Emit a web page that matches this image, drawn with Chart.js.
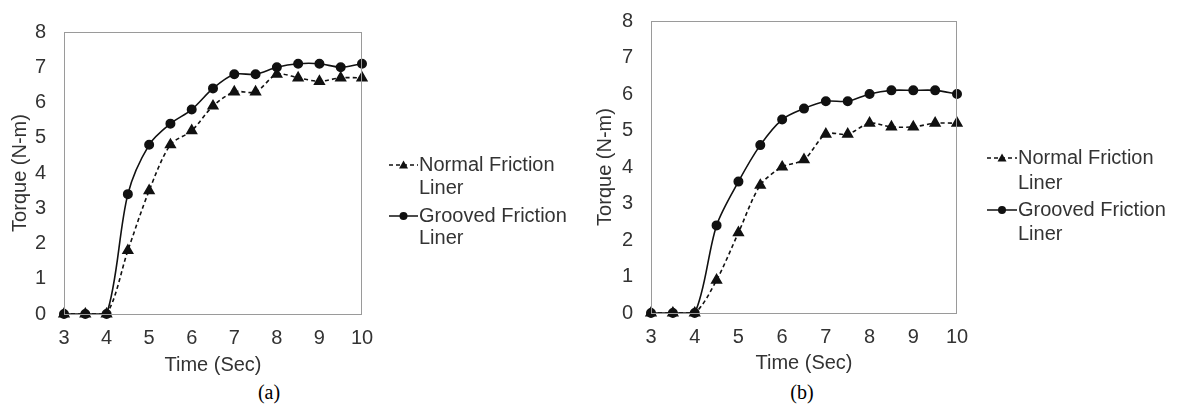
<!DOCTYPE html>
<html>
<head>
<meta charset="utf-8">
<script src="https://cdn.jsdelivr.net/npm/chart.js@4.4.1/dist/chart.umd.min.js"></script>
<style>
  body { margin: 0; background: #fff; width: 1183px; height: 405px; position: relative; overflow: hidden; }
  .wrap { position: absolute; top: 0; height: 380px; }
  .cap { position: absolute; top: 380px; font-family: "Liberation Serif", "Times New Roman", serif; font-size: 20px; color: #000; transform: translateX(-50%); line-height: 24px; }
</style>
</head>
<body>
<div class="wrap" style="left:0;width:580px"><canvas id="chartA" width="580" height="380"></canvas></div>
<div class="wrap" style="left:580px;width:603px"><canvas id="chartB" width="603" height="380"></canvas></div>
<div class="cap" style="left:269px">(a)</div>
<div class="cap" style="left:802px">(b)</div>
<script>
const times = [3, 3.5, 4, 4.5, 5, 5.5, 6, 6.5, 7, 7.5, 8, 8.5, 9, 9.5, 10]

// (a)
const normalA = [0, 0, 0, 1.8, 3.5, 4.8, 5.2, 5.9, 6.3, 6.3, 6.8, 6.7, 6.6, 6.7, 6.7]
const groovedA = [0, 0, 0, 3.4, 4.8, 5.4, 5.8, 6.4, 6.8, 6.8, 7.0, 7.1, 7.1, 7.0, 7.1]

// (b)
const normalB = [0, 0, 0, 0.9, 2.2, 3.5, 4.0, 4.2, 4.9, 4.9, 5.2, 5.1, 5.1, 5.2, 5.2]
const groovedB = [0, 0, 0, 2.4, 3.6, 4.6, 5.3, 5.6, 5.8, 5.8, 6.0, 6.1, 6.1, 6.1, 6.0]

const seriesNames = [['Normal Friction', 'Liner'], ['Grooved Friction', 'Liner']]

const FONT = 'Liberation Sans, Arial, sans-serif'
const FS = 20
const textColor = '#333'
const lineColor = '#111'

// grey frame around the plot area
const framePlugin = {
	id: 'frame',
	afterDraw(chart) {
		const { ctx, chartArea: a } = chart
		ctx.save()
		ctx.strokeStyle = '#9a9a9a'
		ctx.lineWidth = 1
		ctx.strokeRect(a.left + 0.5, a.top + 0.5, a.right - a.left - 1, a.bottom - a.top)
		ctx.restore()
	}
}

// legend with labels wrapped on two lines
const wrapLegend = {
	id: 'wrapLegend',
	afterDraw(chart, args, opts) {
		const { ctx } = chart
		ctx.save()
		ctx.font = FS + 'px ' + FONT
		ctx.textBaseline = 'middle'
		chart.data.datasets.forEach((ds, i) => {
			const y = opts.rows[i][0]
			ctx.strokeStyle = lineColor
			ctx.lineWidth = 1.5
			ctx.setLineDash(ds.borderDash || [])
			ctx.beginPath()
			ctx.moveTo(opts.x, y)
			ctx.lineTo(opts.x + opts.w, y)
			ctx.stroke()
			ctx.setLineDash([])
			ctx.fillStyle = lineColor
			ctx.beginPath()
			const cx = opts.x + opts.w / 2
			if (ds.pointStyle === 'triangle') {
				ctx.moveTo(cx, y - 4.5)
				ctx.lineTo(cx + 4.5, y + 3.5)
				ctx.lineTo(cx - 4.5, y + 3.5)
				ctx.closePath()
			} else {
				ctx.arc(cx, y, 4, 0, Math.PI * 2)
			}
			ctx.fill()
			ctx.fillStyle = textColor
			ds.legendText.forEach((t, j) => {
				ctx.fillText(t, opts.x + opts.w + 1, opts.rows[i][j])
			})
		})
		ctx.restore()
	}
}

function makeChart(id, normal, grooved, lay) {
	return new Chart(document.getElementById(id), {
		type: 'line',
		data: {
			datasets: [
				{
					label: 'Normal Friction Liner',
					legendText: seriesNames[0],
					data: times.map((t, i) => ({ x: t, y: normal[i] })),
					borderColor: lineColor,
					backgroundColor: lineColor,
					borderWidth: 1.6,
					borderDash: [4, 3],
					pointStyle: 'triangle',
					pointRadius: 5.5,
					tension: 0.3,
					clip: false,
				},
				{
					label: 'Grooved Friction Liner',
					legendText: seriesNames[1],
					data: times.map((t, i) => ({ x: t, y: grooved[i] })),
					borderColor: lineColor,
					backgroundColor: lineColor,
					borderWidth: 1.6,
					pointStyle: 'circle',
					pointRadius: 4.2,
					tension: 0.3,
					clip: false,
				},
			],
		},
		options: {
			responsive: false,
			animation: false,
			layout: { padding: lay.padding },
			plugins: {
				legend: { display: false },
				tooltip: { enabled: false },
				wrapLegend: lay.legend,
			},
			scales: {
				x: {
					type: 'linear',
					min: 3,
					max: 10,
					ticks: { stepSize: 1, padding: 12, color: textColor, font: { family: FONT, size: FS }, maxRotation: 0 },
					grid: { display: false, drawTicks: false },
					border: { display: false },
					title: { display: true, text: 'Time (Sec)', color: textColor, font: { family: FONT, size: FS }, padding: 0 },
					afterFit: s => { s.height = lay.xh; s.paddingLeft = 0; s.paddingRight = 0 },
				},
				y: {
					min: 0,
					max: 8,
					ticks: { stepSize: 1, padding: 18, color: textColor, font: { family: FONT, size: FS } },
					grid: { display: false, drawTicks: false },
					border: { display: false },
					title: { display: true, text: 'Torque (N-m)', color: textColor, font: { family: FONT, size: FS }, padding: 0 },
					afterFit: s => { s.width = lay.yw; s.paddingTop = 0; s.paddingBottom = 0 },
				},
			},
		},
		plugins: [framePlugin, wrapLegend],
	})
}

makeChart('chartA', normalA, groovedA, {
	padding: { left: 8, right: 218, top: 32, bottom: 3 },
	yw: 56,
	xh: 63,
	legend: { x: 389, w: 29, rows: [[165, 188], [216, 238]] },
})

makeChart('chartB', normalB, groovedB, {
	padding: { left: 13, right: 226, top: 21, bottom: 5 },
	yw: 58,
	xh: 62,
	legend: { x: 407, w: 30, rows: [[158, 183], [210, 234]] },
})
</script>
</body>
</html>
